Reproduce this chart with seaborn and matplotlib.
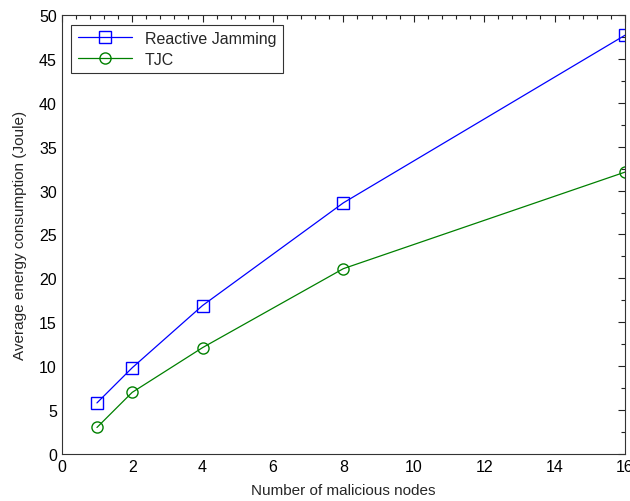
import matplotlib
matplotlib.use("Agg")
import matplotlib.pyplot as plt
import seaborn as sns
import pandas as pd
from matplotlib.ticker import MultipleLocator

# dados
nodes = [1, 2, 4, 8, 16]
reactive = [5.8, 9.8, 16.9, 28.6, 47.7]
tjc = [3.0, 7.0, 12.1, 21.1, 32.1]

df = pd.DataFrame({
    'nodes': nodes * 2,
    'energy': reactive + tjc,
    'scheme': ['Reactive Jamming'] * len(nodes) + ['TJC'] * len(nodes),
})

sns.set_style('white')
plt.rcParams['font.family'] = ['Liberation Sans', 'DejaVu Sans']

fig = plt.figure(figsize=(6.3, 5.02), dpi=100)
ax = fig.add_axes([0.098, 0.094, 0.894, 0.874])

sns.lineplot(data=df, x='nodes', y='energy', hue='scheme', style='scheme',
             palette=['#0000ff', '#008000'], markers=['s', 'o'], dashes=False,
             markersize=8, markerfacecolor='none', markeredgewidth=1.0,
             linewidth=0.9, ax=ax)
for line, c in zip(ax.lines, ['#0000ff', '#008000']):
    line.set_markeredgecolor(c)

ax.set_xlim(0, 16)
ax.set_ylim(0, 50)
ax.xaxis.set_major_locator(MultipleLocator(2))
ax.xaxis.set_minor_locator(MultipleLocator(0.4))
ax.yaxis.set_major_locator(MultipleLocator(5))
ax.yaxis.set_minor_locator(MultipleLocator(2.5))
ax.tick_params(which='both', direction='in', top=True, right=True,
               colors='#222222', labelsize=11.5, labelcolor='black')
ax.tick_params(which='major', length=5, width=0.8)
ax.tick_params(which='minor', length=3, width=0.8)
for s in ax.spines.values():
    s.set_color('#333333')
    s.set_linewidth(0.8)

ax.set_xlabel('Number of malicious nodes', fontsize=11, labelpad=7)
ax.set_ylabel('Average energy consumption (Joule)', fontsize=11, labelpad=9)

leg = ax.legend(loc='upper left', fontsize=11.5, frameon=True, fancybox=False,
                edgecolor='black', borderaxespad=0.6, handlelength=3.4,
                labelspacing=0.35)
leg.get_frame().set_linewidth(0.8)
for h, c in zip(leg.legend_handles, ['#0000ff', '#008000']):
    h.set_markerfacecolor('none')
    h.set_markeredgecolor(c)

plt.savefig('out.png', dpi=100)
